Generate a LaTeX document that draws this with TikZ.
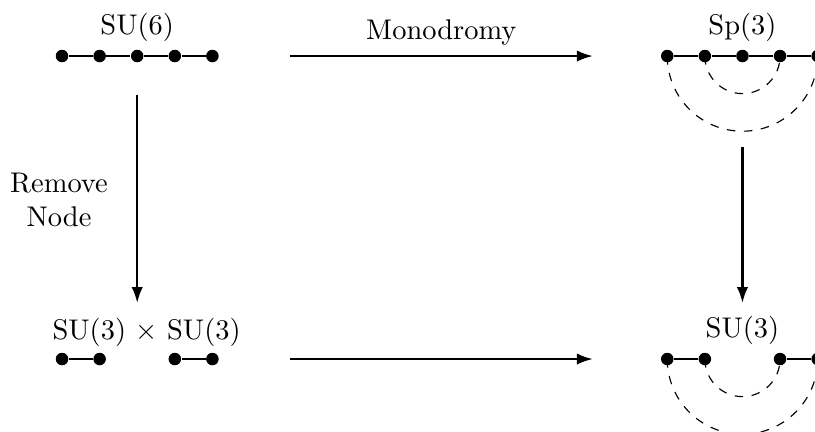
\documentclass[tikz,border=0pt]{standalone}
\usepackage{tikz}
\usetikzlibrary{arrows.meta}
\tikzset{dot/.style = {circle, fill=black, inner sep=0pt, minimum size=4.4pt}}
\tikzset{arrow/.style={thick,-{Latex[length=5.6pt,width=4pt]}}}
\tikzset{loop/.style={dashed}}

\begin{document}
\begin{tikzpicture}[x=0.4645cm,y=0.4645cm]
\useasboundingbox (-1.65,1.49) rectangle (20.03,-10.0);

% SU(6)
\foreach \i in {0,...,4} \node[dot] (a\i) at (\i,0) {};
\draw (a0) -- (a1) -- (a2) -- (a3) -- (a4);
\node (su6) at (2,0.75) {SU(6)};

% Sp(3)
\foreach \i in {0,...,4} \node[dot] (b\i) at (16.1+\i,0) {};
\draw (b0) -- (b1) -- (b2) -- (b3) -- (b4);
\draw[loop] (b1.center) arc[start angle=180, end angle=360, radius=1];
\draw[loop] (b0.center) arc[start angle=180, end angle=360, radius=2];
\node (sp3) at (18.1,0.75) {Sp(3)};

% SU(3) x SU(3)
\node[dot] (c0) at (0,-8.06) {};
\node[dot] (c1) at (1,-8.06) {};
\node[dot] (c3) at (3,-8.06) {};
\node[dot] (c4) at (4,-8.06) {};
\draw (c0) -- (c1);
\draw (c3) -- (c4);
\node (su3su3) at (2.25,-7.34) {SU(3) $\times$ SU(3)};

% SU(3)
\node[dot] (d0) at (16.1,-8.06) {};
\node[dot] (d1) at (17.1,-8.06) {};
\node[dot] (d3) at (19.1,-8.06) {};
\node[dot] (d4) at (20.1,-8.06) {};
\draw (d0) -- (d1);
\draw (d3) -- (d4);
\draw[loop] (d1.center) arc[start angle=180, end angle=360, radius=1];
\draw[loop] (d0.center) arc[start angle=180, end angle=360, radius=2];
\node (su3) at (18.1,-7.3) {SU(3)};

% arrows
\coordinate (top1) at (6.06,0);
\coordinate (top2) at (14.12,0);
\coordinate (bot1) at (6.06,-8.06);
\coordinate (bot2) at (14.12,-8.06);
\coordinate (left1) at (2,-1.04);
\coordinate (left2) at (2,-6.57);
\coordinate (right1) at (18.1,-2.42);
\coordinate (right2) at (18.1,-6.57);

\draw[arrow] (top1) -- (top2) node[midway,above] (mono) {Monodromy};
\draw[arrow] (bot1) -- (bot2);
\draw[arrow] (left1) -- (left2);
\draw[arrow] (right1) -- (right2);

\node[align=center] (remove) at (-0.08,-3.83) {Remove\\Node};
\end{tikzpicture}
\end{document}
